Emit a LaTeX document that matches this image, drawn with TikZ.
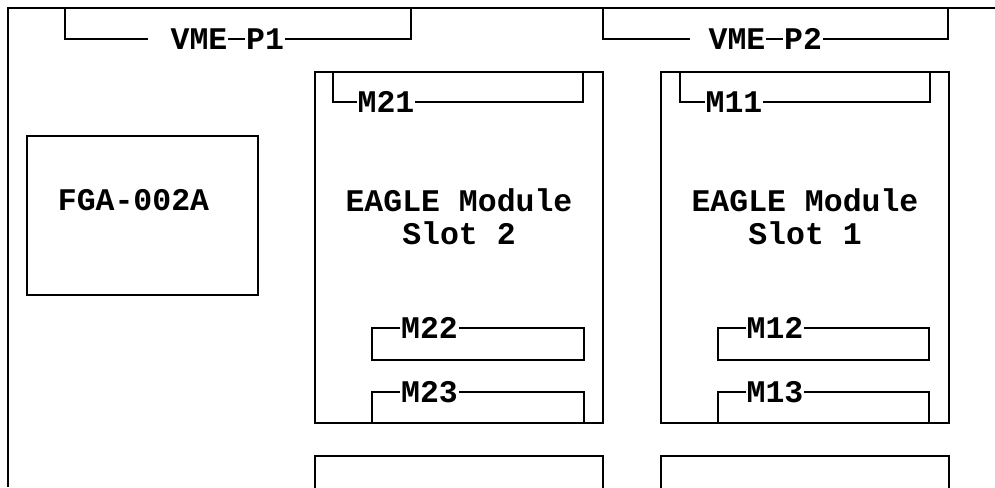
\documentclass[tikz,border=0pt]{standalone}
\usepackage{fontspec}
\setmonofont{Liberation Mono}
\begin{document}
\begin{tikzpicture}[
                x=0.5pt, y=-0.5pt, line width=0.7pt,
                lbl/.style={font=\ttfamily\bfseries\fontsize{15.75}{16.5}\selectfont, inner sep=0pt, align=center},
                board/.style={draw}
            ]
                \useasboundingbox (0,0) rectangle (995,487);
                \draw (995,8) -- (8,8) -- (8,487);
                % backplane connectors
                \node[lbl] (vmeA) at (199,39) {VME};
                \node[lbl] (pA) at (265,39) {P1};
                \node[lbl] (vmeB) at (737,39) {VME};
                \node[lbl] (pB) at (803,39) {P2};
                \coordinate (endA) at (148,39);
                \coordinate (endB) at (690,39);
                \draw (65,8) |- (endA);
                \draw (vmeA.east) -- (pA.west);
                \draw (pA.east) -| (411,8);
                \draw (603,8) |- (endB);
                \draw (vmeB.east) -- (pB.west);
                \draw (pB.east) -| (948,8);
                % FGA
                \draw[board] (27,136) rectangle (258,295);
                \node[lbl] (fga) at (133.5,200) {FGA-002A};
                % slots
                \draw[board] (315,72) rectangle (603,423);
                \draw[board] (661,72) rectangle (949,423);
                \node[lbl] (slotB) at (459,217) {EAGLE Module\\Slot 2};
                \node[lbl] (slotA) at (805,217) {EAGLE Module\\Slot 1};
                \draw (315,492) |- (603,456) -- (603,492);
                \draw (661,492) |- (949,456) -- (949,492);
                % mezzanine sites
                \node[lbl] (m21) at (386,102) {M21};
                \node[lbl] (m22) at (429.5,328) {M22};
                \node[lbl] (m23) at (429.5,392) {M23};
                \node[lbl] (m11) at (734,102) {M11};
                \node[lbl] (m12) at (775,328) {M12};
                \node[lbl] (m13) at (775,392) {M13};
                \draw (333,72) |- (m21.west);
                \draw (m21.east) -| (583,72);
                \draw (680,72) |- (m11.west);
                \draw (m11.east) -| (930,72);
                \draw (m22.west) -| (372,360) -| (584,328) -- (m22.east);
                \draw (m12.west) -| (718,360) -| (929,328) -- (m12.east);
                \draw (372,423) |- (m23.west);
                \draw (m23.east) -| (584,423);
                \draw (718,423) |- (m13.west);
                \draw (m13.east) -| (929,423);
            \end{tikzpicture}
\end{document}
